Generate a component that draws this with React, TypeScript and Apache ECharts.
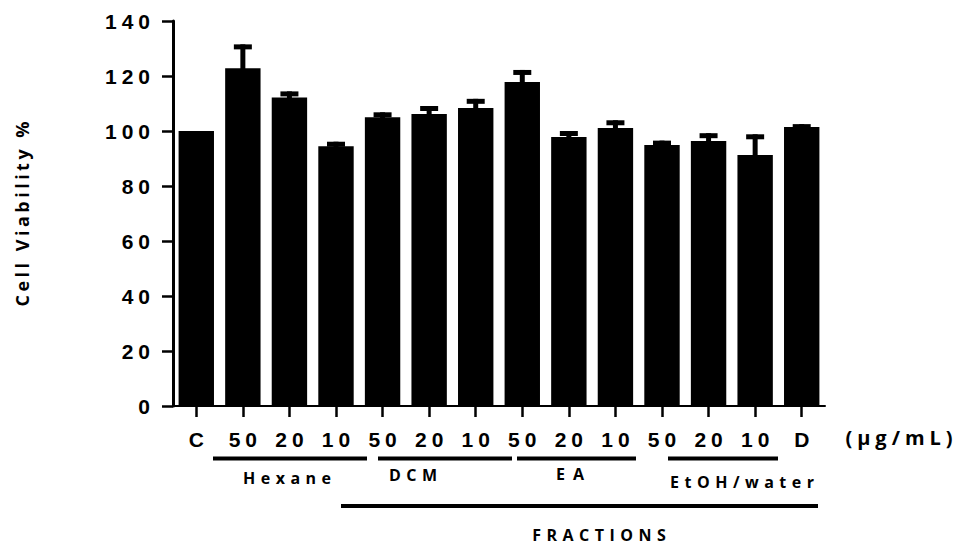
import React, { useEffect, useRef } from "react";
import * as echarts from "echarts";

// ---- data ----
const categories = ["C", "50", "20", "10", "50", "20", "10", "50", "20", "10", "50", "20", "10", "D"];
const viability = [100, 122.8, 112.2, 94.5, 105.0, 106.2, 108.4, 117.8, 97.8, 101.1, 94.9, 96.4, 91.3, 101.5];
const sem = [0, 8.7, 2.2, 1.6, 1.8, 2.9, 3.3, 4.4, 2.2, 2.8, 1.6, 2.8, 7.5, 1.0];
const yTicks = { min: 0, max: 140, interval: 20 };

const groupLabels = ["Hexane", "DCM", "EA", "EtOH/water"];
const fractionLabel = "FRACTIONS";
const unitLabel = "(µg/mL)";
const yTitle = "Cell Viability %";

const NUM_FAMILY = "'Liberation Sans', Arial, sans-serif";
const TXT_FONT = "bold 16px 'Open Sans', sans-serif";

const SPACING: Record<string, number> = {
  Hexane: 5.5,
  DCM: 5.5,
  EA: 8,
  "EtOH/water": 5.5,
  FRACTIONS: 5.5,
  "(µg/mL)": 5,
  "Cell Viability %": 3.5,
};

function applySpacing(root: HTMLElement) {
  root.querySelectorAll("text").forEach((el) => {
    const t = (el.textContent || "").trim();
    let s = SPACING[t];
    if (s === undefined) {
      if (/^\d+$/.test(t) || t === "C" || t === "D") s = 5;
      else s = 0;
    }
    if (!s) return;
    (el as SVGTextElement).style.letterSpacing = s + "px";
    const anchor = el.getAttribute("text-anchor") || "start";
    if (anchor === "middle") el.setAttribute("dx", String(s / 2));
    else if (anchor === "end") el.setAttribute("dx", String(s));
  });
}

export default function App() {
  const ref = useRef<HTMLDivElement>(null);

  useEffect(() => {
    document.body.style.margin = "0";
    if (!ref.current) return;
    const chart = echarts.init(ref.current, undefined, { renderer: "svg" });

    const line = (x1: number, x2: number, y: number, h: number) => ({
      type: "rect",
      shape: { x: x1, y: y - h / 2, width: x2 - x1, height: h },
      style: { fill: "#000" },
      silent: true,
    });
    const label = (text: string, x: number, y: number, font = TXT_FONT) => ({
      type: "text",
      x,
      y,
      style: { text, font, fill: "#000", align: "center", verticalAlign: "middle" },
      silent: true,
    });

    chart.setOption({
      animation: false,
      grid: { left: 173, right: 143, top: 21, bottom: 139, containLabel: false, outerBoundsMode: "none" },
      xAxis: {
        type: "category",
        data: categories,
        axisLine: { show: true, lineStyle: { color: "#000", width: 2 } },
        axisTick: { show: true, alignWithLabel: true, length: 11, lineStyle: { color: "#000", width: 2.5 } },
        axisLabel: { color: "#000", fontWeight: "bold", fontSize: 21, fontFamily: NUM_FAMILY, margin: 23 },
        splitLine: { show: false },
      },
      yAxis: {
        type: "value",
        min: yTicks.min,
        max: yTicks.max,
        interval: yTicks.interval,
        axisLine: { show: true, lineStyle: { color: "#000", width: 3 } },
        axisTick: { show: true, length: 11, lineStyle: { color: "#000", width: 2.5 } },
        axisLabel: { color: "#000", fontWeight: "bold", fontSize: 21, fontFamily: NUM_FAMILY, margin: 23 },
        splitLine: { show: false },
      },
      series: [
        {
          type: "bar",
          data: viability,
          barCategoryGap: "24%",
          itemStyle: { color: "#000" },
          silent: true,
        },
        {
          type: "custom",
          silent: true,
          data: categories.map((_, i) => [i, viability[i], sem[i]]),
          encode: { x: 0, y: 1 },
          z: 3,
          renderItem: (params: any, api: any) => {
            const idx = api.value(0);
            const v = api.value(1);
            const e = api.value(2);
            if (!e) return { type: "group", children: [] };
            const top = api.coord([idx, v + e]);
            const base = api.coord([idx, v]);
            const capW = 18, capH = 5, stemW = 5;
            return {
              type: "group",
              children: [
                { type: "rect", shape: { x: top[0] - stemW / 2, y: top[1], width: stemW, height: base[1] - top[1] + 1 }, style: { fill: "#000" } },
                { type: "rect", shape: { x: top[0] - capW / 2, y: top[1], width: capW, height: capH }, style: { fill: "#000" } },
              ],
            };
          },
        },
      ],
      graphic: [
        line(213, 367, 458.5, 4),
        line(378, 512, 458.5, 4),
        line(517, 636, 458.5, 4),
        line(668, 778, 458.5, 4),
        line(341, 818, 506, 4),
        label(groupLabels[0], 287, 477.5),
        label(groupLabels[1], 413, 475),
        label(groupLabels[2], 570, 474),
        label(groupLabels[3], 742, 482),
        label(fractionLabel, 599, 535),
        label(unitLabel, 899, 437, "bold 20px 'Open Sans', sans-serif"),
        {
          type: "text",
          x: 22,
          y: 214,
          rotation: Math.PI / 2,
          style: { text: yTitle, font: "bold 18px 'Open Sans', sans-serif", fill: "#000", align: "center", verticalAlign: "middle" },
          silent: true,
        },
      ],
    });

    applySpacing(ref.current);
    const onFinished = () => ref.current && applySpacing(ref.current);
    chart.on("finished", onFinished);

    return () => {
      chart.off("finished", onFinished);
      chart.dispose();
    };
  }, []);

  return <div ref={ref} style={{ width: 968, height: 545 }} />;
}
